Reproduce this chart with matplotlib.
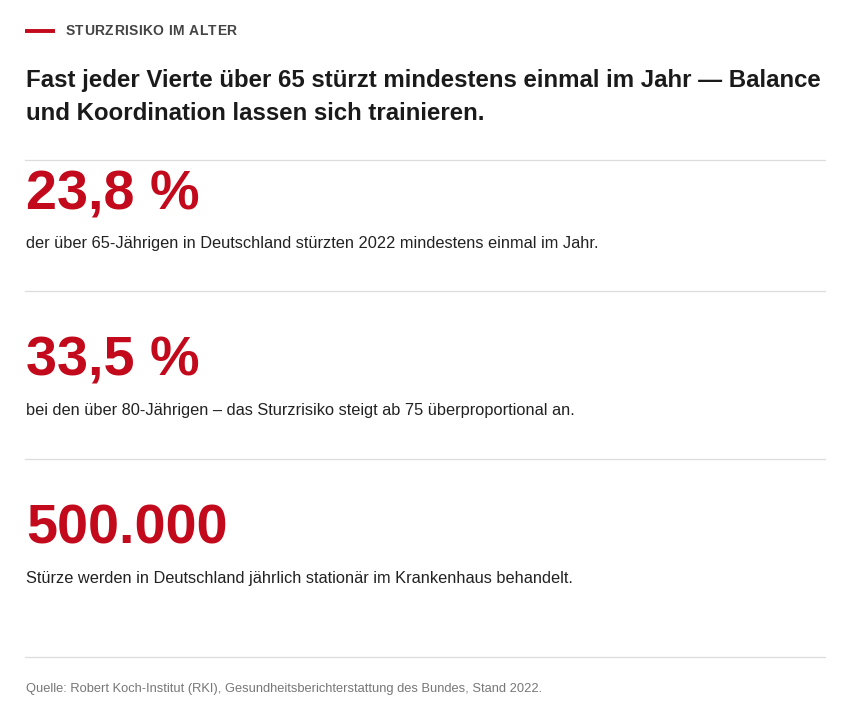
import matplotlib
matplotlib.use("Agg")
import matplotlib.pyplot as plt
from matplotlib.lines import Line2D

plt.rcParams['font.family'] = ['Liberation Sans', 'DejaVu Sans']

kicker = "STURZRISIKO IM ALTER"
title_lines = ["Fast jeder Vierte über 65 stürzt mindestens einmal im Jahr — Balance",
               "und Koordination lassen sich trainieren."]
big_values = ["23,8 %", "33,5 %", "500.000"]
descriptions = ["der über 65-Jährigen in Deutschland stürzten 2022 mindestens einmal im Jahr.",
                "bei den über 80-Jährigen – das Sturzrisiko steigt ab 75 überproportional an.",
                "Stürze werden in Deutschland jährlich stationär im Krankenhaus behandelt."]
source = "Quelle: Robert Koch-Institut (RKI), Gesundheitsberichterstattung des Bundes, Stand 2022."

W, H = 850, 712
fig = plt.figure(figsize=(W / 100, H / 100), dpi=100)
fig.patch.set_facecolor('white')
renderer = fig.canvas.get_renderer()

def fx(x): return x / W
def fy(y): return 1 - y / H

RED = '#C20A1C'


def text_width(s, **kw):
    t = fig.text(0, 0, s, **kw)
    w = t.get_window_extent(renderer).width
    t.remove()
    return w


def fit_size(s, target, base=12, **kw):
    return base * target / text_width(s, fontsize=base, **kw)


# kicker bar and letter-spaced kicker (each glyph placed after the previous one's ink)
fig.add_artist(Line2D([fx(25), fx(55)], [fy(31), fy(31)], color=RED, lw=2.8,
                      solid_capstyle='butt'))
kw_k = dict(fontsize=10, fontweight='bold', color='#444444')
glyph_w = [3.9 if ch == ' ' else text_width(ch, **kw_k) for ch in kicker]
spacing = (171 - sum(glyph_w)) / (len(kicker) - 1)
x = 65.5
for ch, w in zip(kicker, glyph_w):
    if ch != ' ':
        fig.text(fx(x), fy(35.3), ch, va='baseline', ha='left', **kw_k)
    x += w + spacing

# title
fs_title = fit_size(title_lines[0], 790, fontweight='bold')
for i, line in enumerate(title_lines):
    fig.text(fx(26), fy(87.3 + 33 * i), line, fontsize=fs_title, fontweight='bold',
             color='#1a1a1a', va='baseline', ha='left')

# separators
for y in [160, 291, 459, 657]:
    fig.add_artist(Line2D([fx(25), fx(825)], [fy(y), fy(y)], color='#dddddd', lw=0.9))

num_base = [210, 375.5, 543.5]
desc_base = [248, 415.5, 583.5]
fs_num = fit_size(big_values[2], 199, fontweight='bold')
fs_desc = fit_size(descriptions[0], 574)
for v, d, nb, db in zip(big_values, descriptions, num_base, desc_base):
    fig.text(fx(26.3), fy(nb), v, fontsize=fs_num, fontweight='bold', color=RED,
             va='baseline', ha='left')
    fig.text(fx(26), fy(db), d, fontsize=fs_desc, color='#222222', va='baseline', ha='left')

fs_src = fit_size(source, 519)
fig.text(fx(25.5), fy(692), source, fontsize=fs_src, color='#777777', va='baseline', ha='left')

fig.savefig('out.png', dpi=100, facecolor='white')
